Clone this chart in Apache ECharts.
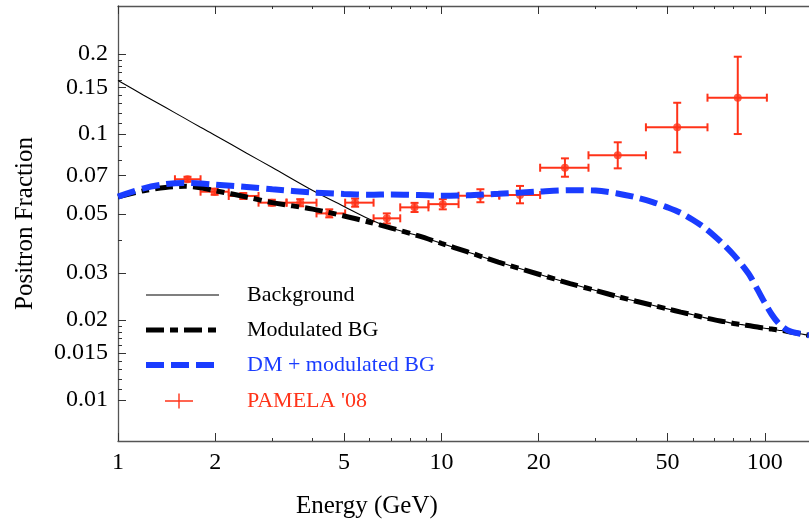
<!DOCTYPE html>
<html>
<head>
<meta charset="UTF-8">
<title>Positron Fraction</title>
<script src="https://cdn.jsdelivr.net/npm/echarts@6/dist/echarts.min.js"></script>
</head>
<body style="margin:0;background:#fff">
<div id="main" style="width:809px;height:521px;"></div>
<script type="text/javascript">
// curve samples, energy in GeV
var energy      = [1, 1.2, 1.4, 1.6, 1.8, 2, 2.5, 3, 4, 5, 6, 7, 8.5, 10, 12, 15, 20, 25, 30, 35, 40, 45, 50, 55, 60, 65, 70, 75, 80, 85, 90, 95, 100, 105, 110, 115, 120, 130, 137];
var background  = [0.159, 0.140, 0.126, 0.115, 0.106, 0.0988, 0.0847, 0.0748, 0.0613, 0.0534, 0.0478, 0.0443, 0.0414, 0.0388, 0.0361, 0.0330, 0.0297, 0.0274, 0.0258, 0.0245, 0.0235, 0.0227, 0.0220, 0.0214, 0.0209, 0.0204, 0.0200, 0.0197, 0.0194, 0.0192, 0.0190, 0.0188, 0.0186, 0.0185, 0.0183, 0.0182, 0.0180, 0.0177, 0.0175];
var modulatedBG = [0.0580, 0.0612, 0.0630, 0.0636, 0.0628, 0.0612, 0.0580, 0.0552, 0.0522, 0.0492, 0.0466, 0.0443, 0.0414, 0.0388, 0.0361, 0.0330, 0.0297, 0.0274, 0.0258, 0.0245, 0.0235, 0.0227, 0.0220, 0.0214, 0.0209, 0.0204, 0.0200, 0.0197, 0.0194, 0.0192, 0.0190, 0.0188, 0.0186, 0.0185, 0.0183, 0.0182, 0.0180, 0.0177, 0.0175];
var dmPlusBG    = [0.0582, 0.0625, 0.0648, 0.0655, 0.0652, 0.0645, 0.0632, 0.0620, 0.0603, 0.0595, 0.0591, 0.0593, 0.0590, 0.0586, 0.0588, 0.0596, 0.0608, 0.0615, 0.0613, 0.0598, 0.0578, 0.0555, 0.0530, 0.0505, 0.0475, 0.0445, 0.0413, 0.0382, 0.0352, 0.0322, 0.0293, 0.0260, 0.0232, 0.0210, 0.0195, 0.0186, 0.0181, 0.0177, 0.0175];

// PAMELA '08 points
var pamE   = [1.64, 1.99, 2.44, 2.99, 3.66, 4.50, 5.41, 6.78, 8.26, 10.1, 13.2, 17.5, 24.1, 35.1, 53.6, 82.5];
var pamELo = [1.50, 1.80, 2.20, 2.72, 3.32, 4.11, 5.04, 6.17, 7.46, 9.12, 11.3, 15.1, 20.2, 28.5, 42.9, 66.5];
var pamEHi = [1.80, 2.20, 2.72, 3.32, 4.11, 5.04, 6.17, 7.46, 9.12, 11.3, 15.1, 20.2, 28.5, 42.9, 66.5, 101.5];
var pamVal = [0.0676, 0.0607, 0.0585, 0.0552, 0.0552, 0.0503, 0.0552, 0.0482, 0.0530, 0.0545, 0.0586, 0.0590, 0.0747, 0.0832, 0.106, 0.137];
var pamLo  = [0.0662, 0.0591, 0.0570, 0.0538, 0.0535, 0.0486, 0.0533, 0.0461, 0.0509, 0.0521, 0.0554, 0.0549, 0.0691, 0.0743, 0.0853, 0.100];
var pamHi  = [0.0691, 0.0623, 0.0600, 0.0566, 0.0569, 0.0521, 0.0572, 0.0503, 0.0551, 0.0569, 0.0620, 0.0638, 0.0810, 0.0931, 0.1311, 0.1953];

// ticks
var xTicks = [1, 2, 5, 10, 20, 50, 100];
var xMinor = [3, 4, 6, 7, 8, 9, 30, 40, 60, 70, 80, 90];
var yTicks = [0.01, 0.015, 0.02, 0.03, 0.05, 0.07, 0.1, 0.15, 0.2];
var yMinor = [0.011, 0.012, 0.013, 0.014, 0.016, 0.017, 0.018, 0.019, 0.04, 0.06, 0.08, 0.09, 0.11, 0.12, 0.13, 0.14, 0.16, 0.17, 0.18, 0.19];

var xMin = 1, xMax = 137, yMin = 0.00701, yMax = 0.303;
var red = '#ff3319', blue = '#1a3cff', frame = '#555', tickCol = '#333';
var serif = 'Liberation Serif';

function lg(v) { return Math.log(v) / Math.LN10; }
function pairs(xs, ys) { return xs.map(function (x, i) { return [x, ys[i]]; }); }
function fmt(v) { return String(Number(Math.pow(10, v).toPrecision(6))); }

var myChart = echarts.init(document.getElementById('main'), null, { renderer: 'canvas' });

var off = { show: false };
function tickAxis(dim, pos, vals, len, labels) {
    var a = {
        type: 'value', position: pos,
        min: dim === 'x' ? lg(xMin) : lg(yMin),
        max: dim === 'x' ? lg(xMax) : lg(yMax),
        axisLine: { show: false, onZero: false },
        axisTick: { show: true, inside: true, length: len, customValues: vals.map(lg), lineStyle: { color: tickCol, width: 1 } },
        axisLabel: { show: false },
        splitLine: off
    };
    if (labels) {
        a.axisLabel = {
            show: true, customValues: vals.map(lg), formatter: fmt,
            margin: 10, fontSize: 24, fontFamily: serif, color: '#000'
        };
    }
    return a;
}

var yTitleAxis = tickAxis('y', 'left', yTicks, 8, true);
yTitleAxis.name = 'Positron Fraction';
yTitleAxis.nameLocation = 'middle';
yTitleAxis.nameGap = 80;
yTitleAxis.nameTextStyle = { fontSize: 25, fontFamily: serif, color: '#000' };

var topFrame = tickAxis('x', 'top', xTicks, 8, false);
topFrame.axisLine = { show: true, onZero: false, lineStyle: { color: frame, width: 1.3 } };

var noDot = { opacity: 0 };

var option = {
    animation: false,
    backgroundColor: '#fff',
    title: {
        text: 'Energy (GeV)', left: 296, top: 494, padding: 0,
        textStyle: { fontSize: 25, fontWeight: 'normal', fontFamily: serif, color: '#000' }
    },
    grid: { left: 118, right: 0, top: 6, bottom: 80 },
    xAxis: [
        {
            type: 'log', logBase: 10, min: xMin, max: xMax, position: 'bottom',
            axisLine: { show: true, onZero: false, lineStyle: { color: frame, width: 1.3 } },
            axisTick: off, axisLabel: off, splitLine: off, minorTick: off
        },
        tickAxis('x', 'bottom', xTicks, 8, true),
        tickAxis('x', 'bottom', xMinor, 3, false),
        topFrame,
        tickAxis('x', 'top', xMinor, 3, false)
    ],
    yAxis: [
        {
            type: 'log', logBase: 10, min: yMin, max: yMax, position: 'left',
            axisLine: { show: true, onZero: false, lineStyle: { color: frame, width: 1.3 } },
            axisTick: off, axisLabel: off, splitLine: off, minorTick: off
        },
        yTitleAxis,
        tickAxis('y', 'left', yMinor, 4, false)
    ],
    legend: [
        {
            orient: 'vertical', left: 143, top: 284, padding: 0, itemWidth: 73, itemHeight: 14, itemGap: 13,
            selectedMode: false,
            textStyle: { fontFamily: serif, fontSize: 22, padding: [0, 0, 0, 23] },
            data: [
                { name: 'Background', lineStyle: { width: 1.2 }, itemStyle: noDot, textStyle: { color: '#000' } },
                { name: 'Modulated BG', lineStyle: { width: 5 }, itemStyle: noDot, textStyle: { color: '#000' } },
                { name: 'DM + modulated BG', lineStyle: { width: 6 }, itemStyle: noDot, textStyle: { color: blue } }
            ]
        },
        {
            orient: 'vertical', left: 165, top: 390, padding: 0, itemWidth: 28, itemHeight: 15,
            selectedMode: false,
            textStyle: { fontFamily: serif, fontSize: 22, padding: [0, 0, 0, 49], color: red },
            data: [{ name: "PAMELA '08", icon: 'path://M0,6.8L28,6.8L28,8.2L14.7,8.2L14.7,15L13.3,15L13.3,8.2L0,8.2ZM13.3,0L14.7,0L14.7,6.8L13.3,6.8Z' }]
        }
    ],
    series: [
        {
            name: 'Background', type: 'line', xAxisIndex: 0, yAxisIndex: 0,
            data: pairs(energy, background), symbol: 'none', smooth: 0.3,
            lineStyle: { color: '#000', width: 1.1 }, itemStyle: { color: '#000' }
        },
        {
            name: 'Modulated BG', type: 'line', xAxisIndex: 0, yAxisIndex: 0,
            data: pairs(energy, modulatedBG), symbol: 'none', smooth: 0.3,
            lineStyle: { color: '#000', width: 5, type: [18, 6, 8, 6] }, itemStyle: { color: '#000' }
        },
        {
            name: 'DM + modulated BG', type: 'line', xAxisIndex: 0, yAxisIndex: 0,
            data: pairs(energy, dmPlusBG), symbol: 'none', smooth: 0.3,
            lineStyle: { color: blue, width: 6, type: [18, 7] }, itemStyle: { color: blue }
        },
        {
            name: "PAMELA '08", type: 'custom', xAxisIndex: 0, yAxisIndex: 0,
            data: pamE.map(function (e, i) { return [e, pamVal[i], pamELo[i], pamEHi[i], pamLo[i], pamHi[i]]; }),
            encode: { x: [0, 2, 3], y: [1, 4, 5] },
            itemStyle: { color: red },
            renderItem: function (params, api) {
                var c = api.coord([api.value(0), api.value(1)]);
                var l = api.coord([api.value(2), api.value(1)]);
                var r = api.coord([api.value(3), api.value(1)]);
                var b = api.coord([api.value(0), api.value(4)]);
                var t = api.coord([api.value(0), api.value(5)]);
                var cap = 4;
                var st = { stroke: red, lineWidth: 2 };
                return {
                    type: 'group',
                    children: [
                        { type: 'line', shape: { x1: l[0], y1: l[1], x2: r[0], y2: r[1] }, style: st },
                        { type: 'line', shape: { x1: l[0], y1: l[1] - cap, x2: l[0], y2: l[1] + cap }, style: st },
                        { type: 'line', shape: { x1: r[0], y1: r[1] - cap, x2: r[0], y2: r[1] + cap }, style: st },
                        { type: 'line', shape: { x1: c[0], y1: b[1], x2: c[0], y2: t[1] }, style: st },
                        { type: 'line', shape: { x1: c[0] - cap, y1: b[1], x2: c[0] + cap, y2: b[1] }, style: st },
                        { type: 'line', shape: { x1: c[0] - cap, y1: t[1], x2: c[0] + cap, y2: t[1] }, style: st }
                    ]
                };
            }
        },
        {
            name: "PAMELA '08", type: 'scatter', xAxisIndex: 0, yAxisIndex: 0,
            data: pairs(pamE, pamVal), symbol: 'circle', symbolSize: 8,
            itemStyle: { color: red }
        }
    ]
};

myChart.setOption(option);
</script>
</body>
</html>
